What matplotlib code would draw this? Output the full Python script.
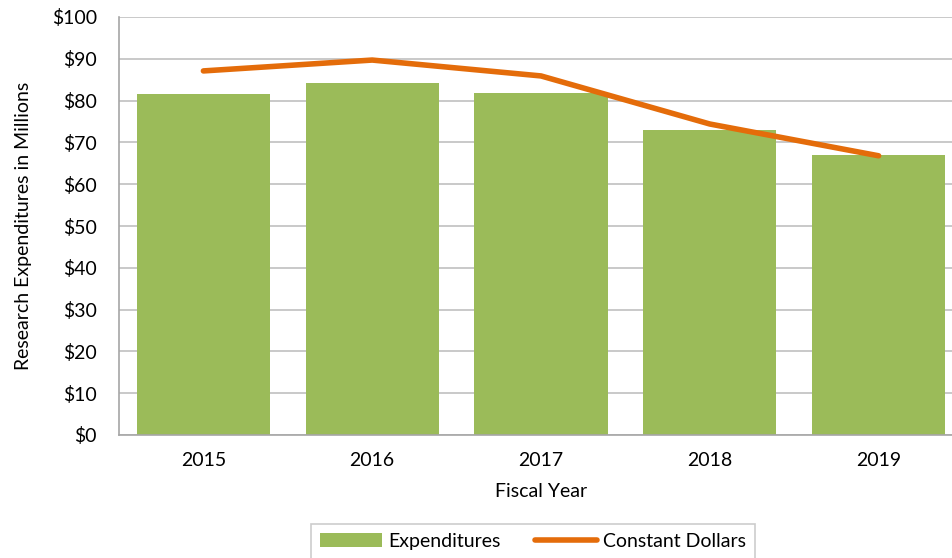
import matplotlib.pyplot as plt
import matplotlib.ticker as mticker

plt.rcParams['font.family'] = ['Lato', 'DejaVu Sans']

# Данные
years = ['2015', '2016', '2017', '2018', '2019']
expenditures = [81.6, 84.2, 81.9, 72.9, 67.0]
constant_dollars = [87.1, 89.7, 85.9, 74.4, 66.8]

green = '#9BBB59'
orange = '#E46C0A'

fig = plt.figure(figsize=(9.53, 5.58), dpi=100)
# ось немного выходит за правый край картинки, как в оригинале
ax = fig.add_axes([119 / 953, 1 - 435 / 558, (963 - 119) / 953, (435 - 17) / 558])

x = range(len(years))
bars = ax.bar(x, expenditures, width=0.79, color=green, label='Expenditures', zorder=2)
line, = ax.plot(x, constant_dollars, color=orange, linewidth=4, solid_capstyle='round',
                label='Constant Dollars', zorder=3)

ax.set_xlim(-0.5, len(years) - 0.5)
ax.set_ylim(0, 100)
ax.set_yticks(range(0, 101, 10))
ax.yaxis.set_major_formatter(mticker.FuncFormatter(lambda v, p: f'${v:.0f}'))
ax.set_xticks(list(x))
ax.set_xticklabels(years)
ax.grid(axis='y', color='#C0C0C0', linewidth=1.2, zorder=0)
ax.tick_params(axis='both', length=0, labelsize=14)
ax.tick_params(axis='y', pad=16)
ax.tick_params(axis='x', pad=12)

for side in ['top', 'right']:
    ax.spines[side].set_visible(False)
for side in ['left', 'bottom']:
    ax.spines[side].set_color('#A6A6A6')
    ax.spines[side].set_linewidth(1.2)

ax.set_xlabel('Fiscal Year', fontsize=14, labelpad=10)
ax.set_ylabel('Research Expenditures in Millions', fontsize=14, labelpad=14)

leg = fig.legend([bars, line], ['Expenditures', 'Constant Dollars'],
                 loc='upper center', bbox_to_anchor=(533 / 953, 1 - 524 / 558), ncol=2,
                 fontsize=14, frameon=True, fancybox=False, edgecolor='#C0C0C0',
                 handlelength=3.2, handletextpad=0.3, columnspacing=1.8,
                 borderpad=0.45, borderaxespad=0)
leg.get_frame().set_linewidth(1.2)

fig.savefig('out.png', dpi=100)
